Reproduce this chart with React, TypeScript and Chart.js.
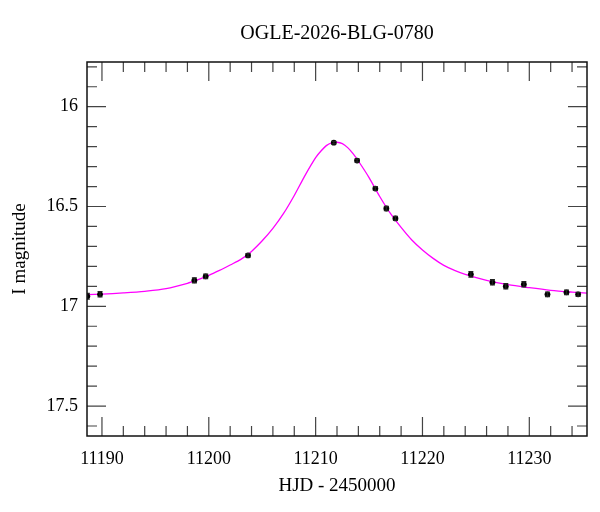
import React, { useEffect, useRef } from 'react';
import Chart from 'chart.js/auto';

// observations (HJD - 2450000, I mag, error)
const hjd = [11188.63, 11189.82, 11198.65, 11199.71, 11203.67, 11211.7, 11213.88, 11215.59, 11216.62, 11217.47, 11224.53, 11226.55, 11227.8, 11229.49, 11231.7, 11233.48, 11234.57];
const mag = [16.95, 16.94, 16.87, 16.85, 16.745, 16.18, 16.27, 16.41, 16.51, 16.56, 16.84, 16.88, 16.9, 16.89, 16.94, 16.93, 16.94];
const magErr = [0.014, 0.013, 0.012, 0.011, 0.009, 0.006, 0.008, 0.009, 0.01, 0.01, 0.014, 0.013, 0.013, 0.013, 0.011, 0.011, 0.01];

// model curve
const modelHjd = [11188.6, 11190, 11192, 11194, 11196, 11198, 11199, 11200, 11201, 11202, 11203, 11204, 11205, 11206, 11207, 11208, 11209, 11210, 11210.5, 11211, 11211.5, 11212, 11212.5, 11213, 11213.5, 11214, 11215, 11216, 11217, 11218, 11219, 11220, 11221, 11222, 11223, 11224, 11226, 11228, 11230, 11232, 11234, 11235.4];
const modelMag = [16.942, 16.939, 16.933, 16.925, 16.912, 16.885, 16.866, 16.845, 16.82, 16.793, 16.765, 16.725, 16.672, 16.61, 16.535, 16.445, 16.345, 16.255, 16.222, 16.195, 16.181, 16.178, 16.185, 16.205, 16.235, 16.272, 16.355, 16.45, 16.535, 16.605, 16.668, 16.718, 16.76, 16.795, 16.82, 16.84, 16.87, 16.892, 16.907, 16.92, 16.929, 16.934];

const xMin = 11188.6;
const xMax = 11235.4;
const yMin = 15.776;
const yMax = 17.65;

const title = 'OGLE-2026-BLG-0780';
const xTitle = 'HJD - 2450000';
const yTitle = 'I magnitude';

const FONT = "'Liberation Serif', serif";

const errorBars = {
  id: 'errorBars',
  afterDatasetsDraw(chart: any) {
    const { ctx, chartArea, scales: { x, y } } = chart;
    ctx.save();
    ctx.beginPath();
    ctx.rect(chartArea.left, chartArea.top, chartArea.right - chartArea.left, chartArea.bottom - chartArea.top);
    ctx.clip();
    ctx.strokeStyle = '#222';
    ctx.lineWidth = 1.3;
    ctx.beginPath();
    hjd.forEach((t, i) => {
      const px = x.getPixelForValue(t);
      const y1 = y.getPixelForValue(mag[i] - magErr[i]);
      const y2 = y.getPixelForValue(mag[i] + magErr[i]);
      ctx.moveTo(px, y1); ctx.lineTo(px, y2);
      ctx.moveTo(px - 2.5, y1); ctx.lineTo(px + 2.5, y1);
      ctx.moveTo(px - 2.5, y2); ctx.lineTo(px + 2.5, y2);
    });
    ctx.stroke();
    ctx.restore();
  },
};

// inward ticks on all four sides + frame
const frameTicks = {
  id: 'frameTicks',
  afterDraw(chart: any) {
    const { ctx, chartArea: { left, right, top, bottom }, scales: { x, y } } = chart;
    ctx.save();
    ctx.strokeStyle = '#444';
    ctx.lineWidth = 1.2;
    ctx.beginPath();
    x.ticks.forEach((t: any) => {
      const px = x.getPixelForValue(t.value);
      const len = Math.abs(t.value / 10 - Math.round(t.value / 10)) < 1e-6 ? 19 : 10;
      ctx.moveTo(px, bottom); ctx.lineTo(px, bottom - len);
      ctx.moveTo(px, top); ctx.lineTo(px, top + len);
    });
    y.ticks.forEach((t: any) => {
      const py = y.getPixelForValue(t.value);
      const len = Math.abs(t.value * 2 - Math.round(t.value * 2)) < 1e-6 ? 19 : 10;
      ctx.moveTo(left, py); ctx.lineTo(left + len, py);
      ctx.moveTo(right, py); ctx.lineTo(right - len, py);
    });
    ctx.stroke();
    ctx.strokeStyle = '#111';
    ctx.lineWidth = 1.5;
    ctx.strokeRect(left, top, right - left, bottom - top);
    ctx.restore();
  },
};

const App: React.FC = () => {
  const chartRef = useRef<HTMLCanvasElement>(null);

  useEffect(() => {
    Chart.defaults.font.family = FONT;
    Chart.defaults.color = '#000';

    const config: any = {
      type: 'scatter',
      data: {
        datasets: [
          {
            label: 'data',
            data: hjd.map((t, i) => ({ x: t, y: mag[i] })),
            pointRadius: 2.9,
            pointBackgroundColor: '#000',
            pointBorderWidth: 0,
          },
          {
            label: 'model',
            data: modelHjd.map((t, i) => ({ x: t, y: modelMag[i] })),
            showLine: true,
            borderColor: '#ff00ff',
            borderWidth: 1.3,
            pointRadius: 0,
            tension: 0.3,
          },
        ],
      },
      options: {
        responsive: false,
        animation: false,
        layout: { padding: 0 },
        plugins: {
          legend: { display: false },
          tooltip: { enabled: false },
        },
        scales: {
          x: {
            type: 'linear',
            position: 'bottom',
            min: xMin,
            max: xMax,
            grid: { display: false, drawTicks: false },
            border: { display: false },
            ticks: {
              stepSize: 2,
              includeBounds: false,
              autoSkip: false,
              maxRotation: 0,
              padding: 12,
              font: { size: 18 },
              callback: (v: number) => (Math.abs(v / 10 - Math.round(v / 10)) < 1e-6 ? String(Math.round(v)) : ''),
            },
            title: { display: true, text: xTitle, font: { size: 19 }, padding: { top: 0, bottom: 15 } },
            afterFit: (s: any) => { s.height = 76; },
          },
          x2: {
            type: 'linear',
            position: 'top',
            min: xMin,
            max: xMax,
            grid: { display: false, drawTicks: false },
            border: { display: false },
            ticks: { display: false },
            title: { display: true, text: title, font: { size: 20 }, padding: { top: 22, bottom: 0 } },
            afterFit: (s: any) => { s.height = 62; },
          },
          y: {
            type: 'linear',
            position: 'left',
            reverse: true,
            min: yMin,
            max: yMax,
            grid: { display: false, drawTicks: false },
            border: { display: false },
            ticks: {
              stepSize: 0.1,
              includeBounds: false,
              autoSkip: false,
              padding: 9,
              font: { size: 18 },
              callback: (v: number) => (Math.abs(v * 2 - Math.round(v * 2)) < 1e-6 ? String(Number(v.toFixed(1))) : ''),
            },
            title: { display: true, text: yTitle, font: { size: 19 }, padding: { top: 9, bottom: 0 } },
            afterFit: (s: any) => { s.width = 87; },
          },
          y2: {
            type: 'linear',
            position: 'right',
            reverse: true,
            min: yMin,
            max: yMax,
            grid: { display: false, drawTicks: false },
            border: { display: false },
            ticks: { display: false },
            afterFit: (s: any) => { s.width = 13; },
          },
        },
      },
      plugins: [errorBars, frameTicks],
    };

    const myChart = new Chart(chartRef.current as HTMLCanvasElement, config);

    return () => {
      myChart.destroy();
    };
  }, []);

  return (
    <div style={{ position: 'fixed', left: 0, top: 0, width: 600, height: 512, background: '#fff' }}>
      <canvas ref={chartRef} width={600} height={512} style={{ display: 'block' }}></canvas>
    </div>
  );
};

export default App;
